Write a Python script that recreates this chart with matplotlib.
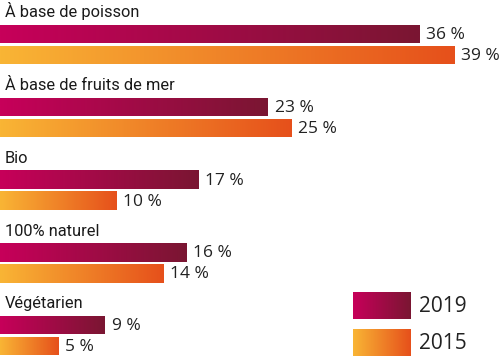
import matplotlib
matplotlib.use("Agg")
import matplotlib.pyplot as plt
import numpy as np
from matplotlib.colors import LinearSegmentedColormap

plt.rcParams['font.family'] = ['Open Sans', 'DejaVu Sans']
LABEL_FONT = ['Roboto', 'Open Sans', 'DejaVu Sans']

categories = ["À base de poisson", "À base de fruits de mer", "Bio", "100% naturel", "Végétarien"]
values_2019 = [36, 23, 17, 16, 9]
values_2015 = [39, 25, 10, 14, 5]
series_labels = ["2019", "2015"]

cmap19 = LinearSegmentedColormap.from_list("c19", ["#C7005A", "#7A1632"])
cmap15 = LinearSegmentedColormap.from_list("c15", ["#F9B535", "#E6501B"])

W, H = 500, 360
fig = plt.figure(figsize=(W / 100, H / 100), dpi=100)
ax = fig.add_axes([0, 0, 1, 1])
px_per_pct = 11.65
ax.set_xlim(0, W / px_per_pct)
ax.set_ylim(H, 0)
ax.axis("off")

spacing = 72.8
bar_h = 18.5
first_center = 34


def grad_bar(x0, yc, length, cmap):
    rect = ax.barh(yc, length, left=x0, height=bar_h, color="none", edgecolor="none")[0]
    grad = np.linspace(0, 1, 256).reshape(1, -1)
    im = ax.imshow(grad, cmap=cmap, aspect="auto",
                   extent=[x0, x0 + length, yc + bar_h / 2, yc - bar_h / 2],
                   interpolation="bilinear", zorder=2)
    im.set_clip_path(rect)


for i, cat in enumerate(categories):
    c19 = first_center + i * spacing
    c15 = c19 + 21
    grad_bar(0, c19, values_2019[i], cmap19)
    grad_bar(0, c15, values_2015[i], cmap15)
    ax.text(5 / px_per_pct, c19 - bar_h / 2 - 7.5, cat, fontsize=11.8, color="#1a1a1a",
            va="baseline", ha="left", family=LABEL_FONT)
    ax.text(values_2019[i] + 0.6, c19 + 1, f"{values_2019[i]} %", fontsize=12.5,
            color="#222222", va="center", ha="left")
    ax.text(values_2015[i] + 0.6, c15 + 1, f"{values_2015[i]} %", fontsize=12.5,
            color="#222222", va="center", ha="left")

# legend
leg_x0 = 353 / px_per_pct
leg_len = 58 / px_per_pct
for j, (lab, cm) in enumerate(zip(series_labels, [cmap19, cmap15])):
    yc = 305.5 + j * 37
    grad = np.linspace(0, 1, 256).reshape(1, -1)
    ax.imshow(grad, cmap=cm, aspect="auto",
              extent=[leg_x0, leg_x0 + leg_len, yc + 13.5, yc - 13.5],
              interpolation="bilinear", zorder=2)
    ax.text(419 / px_per_pct, yc + 1, lab, fontsize=15, color="#222222",
            va="center", ha="left")

ax.set_xlim(0, W / px_per_pct)
ax.set_ylim(H, 0)
fig.savefig("out.png", dpi=100)
